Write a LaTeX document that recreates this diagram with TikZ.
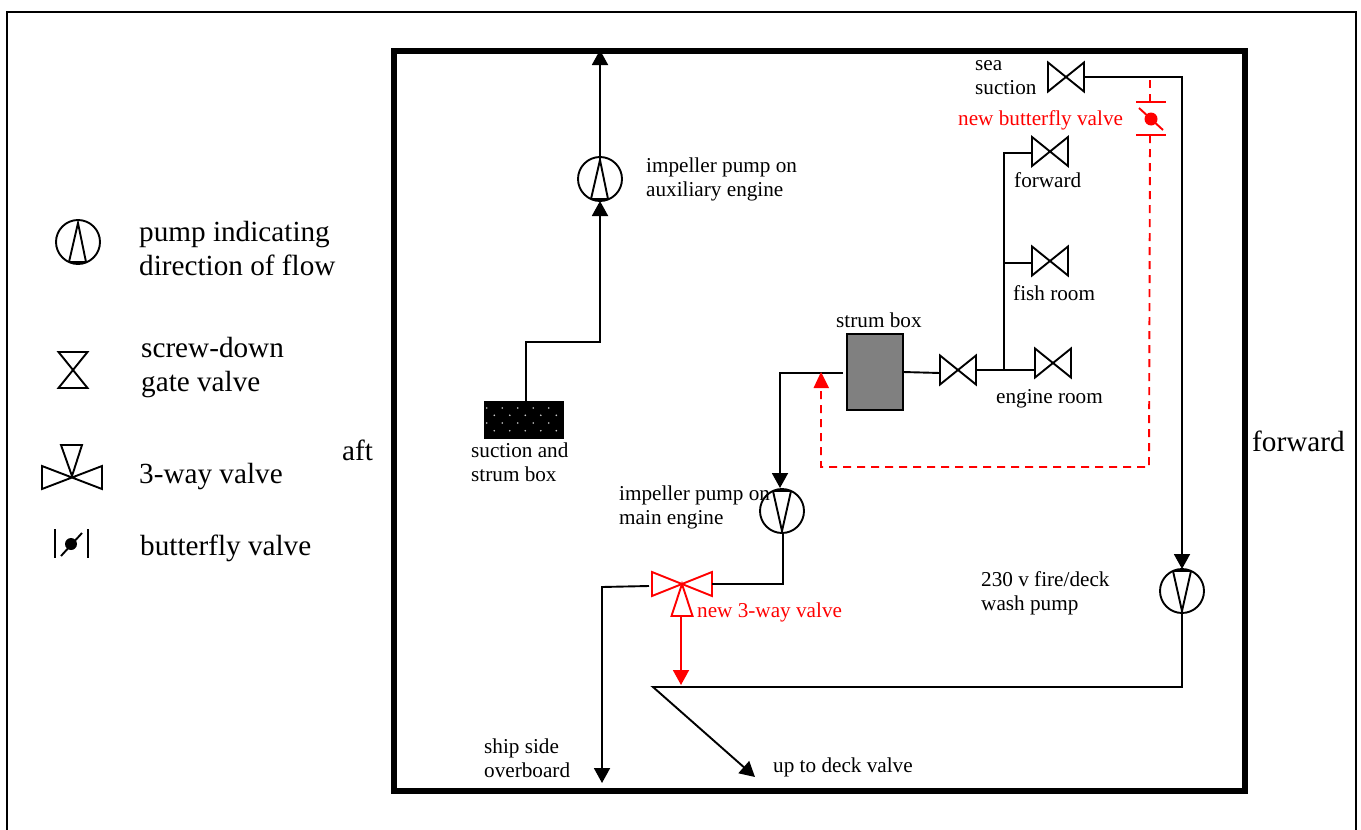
\documentclass[tikz,border=0pt]{standalone}
\usepackage{fontspec}
\setmainfont{Liberation Serif}
\usetikzlibrary{arrows.meta}
\tikzset{
  pipe/.style={line width=1.9pt},
  flow/.style={pipe,-{Triangle[length=15pt,width=16pt]}},
  newpipe/.style={pipe,color=red},
  newflow/.style={newpipe,dashed,dash pattern=on 8pt off 6pt},
  small/.style={anchor=west,inner sep=0pt,align=left,font=\fontsize{21.2}{24}\selectfont},
  big/.style={anchor=west,inner sep=0pt,align=left,font=\fontsize{29.2}{34}\selectfont},
  pump/.style={circle,draw,line width=1.9pt,minimum size=44pt,inner sep=0pt,outer sep=0pt},
  pumpup/.style={pump,path picture={\draw[pipe] ([shift={(0,-19)}]path picture bounding box.center) -- ([shift={(-9,20)}]path picture bounding box.center) -- ([shift={(8,20)}]path picture bounding box.center) -- cycle;}},
  pumpdown/.style={pump,path picture={\draw[pipe] ([shift={(0,20)}]path picture bounding box.center) -- ([shift={(-9,-20)}]path picture bounding box.center) -- ([shift={(9,-20)}]path picture bounding box.center) -- cycle;}},
  gatevalve/.pic={
    \draw[pipe] (-18,-14.5) -- (18,14.5) -- (18,-14.5) -- (-18,14.5) -- cycle;
    \coordinate (-w) at (-18,0);
    \coordinate (-e) at (18,0);
  },
  threeway/.pic={
    \draw[pipe] (0,0) -- (-30,-12) -- (-30,12) -- cycle;
    \draw[pipe] (0,0) -- (30,-12) -- (30,12) -- cycle;
    \draw[pipe] (0,0) -- (-10.5,32) -- (10.5,32) -- cycle;
    \coordinate (-w) at (-30,0);
    \coordinate (-e) at (30,0);
  },
}
\begin{document}
\begin{tikzpicture}[x=1pt,y=-1pt]
\useasboundingbox (0,0) rectangle (1361,830);

%outer frame and hull
\draw[line width=1.9pt] (7,840) -- (7,12) -- (1356,12) -- (1356,840);
\draw[line width=6pt] (393.5,50.5) rectangle (1245,791);

%legend
\node[pumpup] (keypump) at (78,242) {};
\node[big] (keypumptext) at (139,249) {pump indicating\\direction of flow};
\pic[rotate=90] (keyvalve) at (73,370) {gatevalve};
\node[big] (keyvalvetext) at (141,368) {screw-down\\gate valve};
\draw[pipe] (42,466) -- (102,489) -- (102,466) -- (42,489) -- cycle;
\draw[pipe] (72,476) -- (61,445) -- (82,445) -- cycle;
\node[big] (keythreetext) at (139,477) {3-way valve};
\draw[pipe] (55,529) -- (55,558);
\draw[pipe] (88,529) -- (88,558);
\draw[pipe] (61,556) -- (82,533);
\fill (71,544) circle (6);
\node[big] (keybutterflytext) at (140,548) {butterfly valve};

\node[big] (afttext) at (342,450) {aft};
\node[big] (forwardtext) at (1252,441) {forward};

%suction box and auxiliary pump
\node[fill=black,minimum width=80pt,minimum height=38pt,inner sep=0pt,outer sep=0pt] (suctionbox) at (524,420) {};
\foreach \i in {0,...,4} {
  \fill[white!80!black] (486.7+15.5*\i,408) circle (0.9);
  \fill[white!80!black] (494.3+15.5*\i,415.3) circle (0.9);
  \fill[white!80!black] (486.7+15.5*\i,423) circle (0.9);
  \fill[white!80!black] (494.3+15.5*\i,430.7) circle (0.9);
}
\node[small] (suctiontext) at (471,462) {suction and\\strum box};
\node[pumpup] (auxpump) at (600,179) {};
\node[small] (auxtext) at (646,179) {impeller pump on\\auxiliary engine};
\coordinate (auxstart) at (526,401);
\coordinate (auxbend) at (526,342);
\coordinate (auxbendb) at (600,342);
\coordinate (auxout) at (600,162);
\coordinate (auxtop) at (600,50);
\draw[flow] (auxstart) -- (auxbend) -- (auxbendb) -- (auxpump.south);
\draw[flow] (auxout) -- (auxtop);

%strum box and its valves
\node[draw,fill=black!50,line width=1.9pt,minimum width=56pt,minimum height=76pt,inner sep=0pt,outer sep=0pt] (strumbox) at (875,372) {};
\node[small] (strumtext) at (836,320) {strum box};
\pic (strumvalve) at (958,370) {gatevalve};
\pic (forwardvalve) at (1050,151.5) {gatevalve};
\pic (fishvalve) at (1050,261) {gatevalve};
\pic (enginevalve) at (1053,363) {gatevalve};
\pic (seavalve) at (1066,77) {gatevalve};
\node[small] (forwardlabel) at (1014,180) {forward};
\node[small] (fishlabel) at (1013,293) {fish room};
\node[small] (enginelabel) at (996,399) {engine room};
\node[small] (seatext) at (975,78) {sea\\suction};
\coordinate (junction) at (1004,370);
\coordinate (branchtop) at (1004,153);
\coordinate (branchfish) at (1004,263);
\coordinate (forwardin) at (1032,153);
\coordinate (fishin) at (1032,263);
\coordinate (enginein) at (1036,370);
\coordinate (strumleft) at (940,373);
\draw[pipe] (strumbox.east) -- (strumleft);
\draw[pipe] (strumvalve-e) -- (junction) -- (enginein);
\draw[pipe] (junction) -- (branchtop) -- (forwardin);
\draw[pipe] (branchfish) -- (fishin);

%main engine pump, strum box down to it
\node[pumpdown] (mainpump) at (782,511) {};
\node[small] (maintext) at (619,507) {impeller pump on\\main engine};
\coordinate (strumout) at (843,373);
\coordinate (mainin) at (780,488);
\draw[flow] (strumout) -| (mainin);

%new 3-way valve
\pic[color=red] (newthree) at (682,584) {threeway};
\node[small,color=red] (newthreetext) at (697,612) {new 3-way valve};
\coordinate (mainbend) at (783,584);
\coordinate (mainout) at (783,533);
\draw[pipe] (mainout) -- (mainbend) -- (newthree-e);
\coordinate (overin) at (649,586);
\coordinate (overbend) at (602,587);
\coordinate (overend) at (602,783);
\draw[flow] (overin) -- (overbend) -- (overend);
\node[small] (overtext) at (484,758) {ship side\\overboard};
\coordinate (teestart) at (681,616);
\coordinate (teepoint) at (681,685);
\draw[flow,color=red] (teestart) -- (teepoint);

%sea suction and fire pump
\node[pumpdown] (firepump) at (1182,591) {};
\node[small] (firetext) at (981,593) {230 v fire/deck\\wash pump};
\coordinate (deckstart) at (653,687);
\coordinate (deckend) at (755,777);
\coordinate (firebend) at (1182,687);
\draw[flow] (seavalve-e) -| (firepump.north);
\draw[flow] (firepump.south) -- (firebend) -- (deckstart) -- (deckend);
\node[small] (decktext) at (773,767) {up to deck valve};

%new butterfly valve with its dashed line
\draw[newpipe] (1136,102) -- (1166,102);
\draw[newpipe] (1136,135) -- (1166,135);
\draw[newpipe] (1139,108) -- (1163,130);
\fill[red] (1151,119) circle (6.5);
\node[small,color=red] (newbutterflytext) at (958,120) {new butterfly valve};
\coordinate (dashtop) at (1150,80);
\coordinate (dashseat) at (1150,102);
\coordinate (dashstart) at (1150,135);
\coordinate (dashcorner) at (1149,467);
\coordinate (dashleft) at (821,467);
\coordinate (dashtip) at (821,372);
\draw[newflow] (dashtop) -- (dashseat);
\draw[newflow] (dashstart) -- (dashcorner) -- (dashleft) -- (dashtip);
\fill[red] (dashtip) -- (813.5,388) -- (829,388) -- cycle;
\end{tikzpicture}
\end{document}
